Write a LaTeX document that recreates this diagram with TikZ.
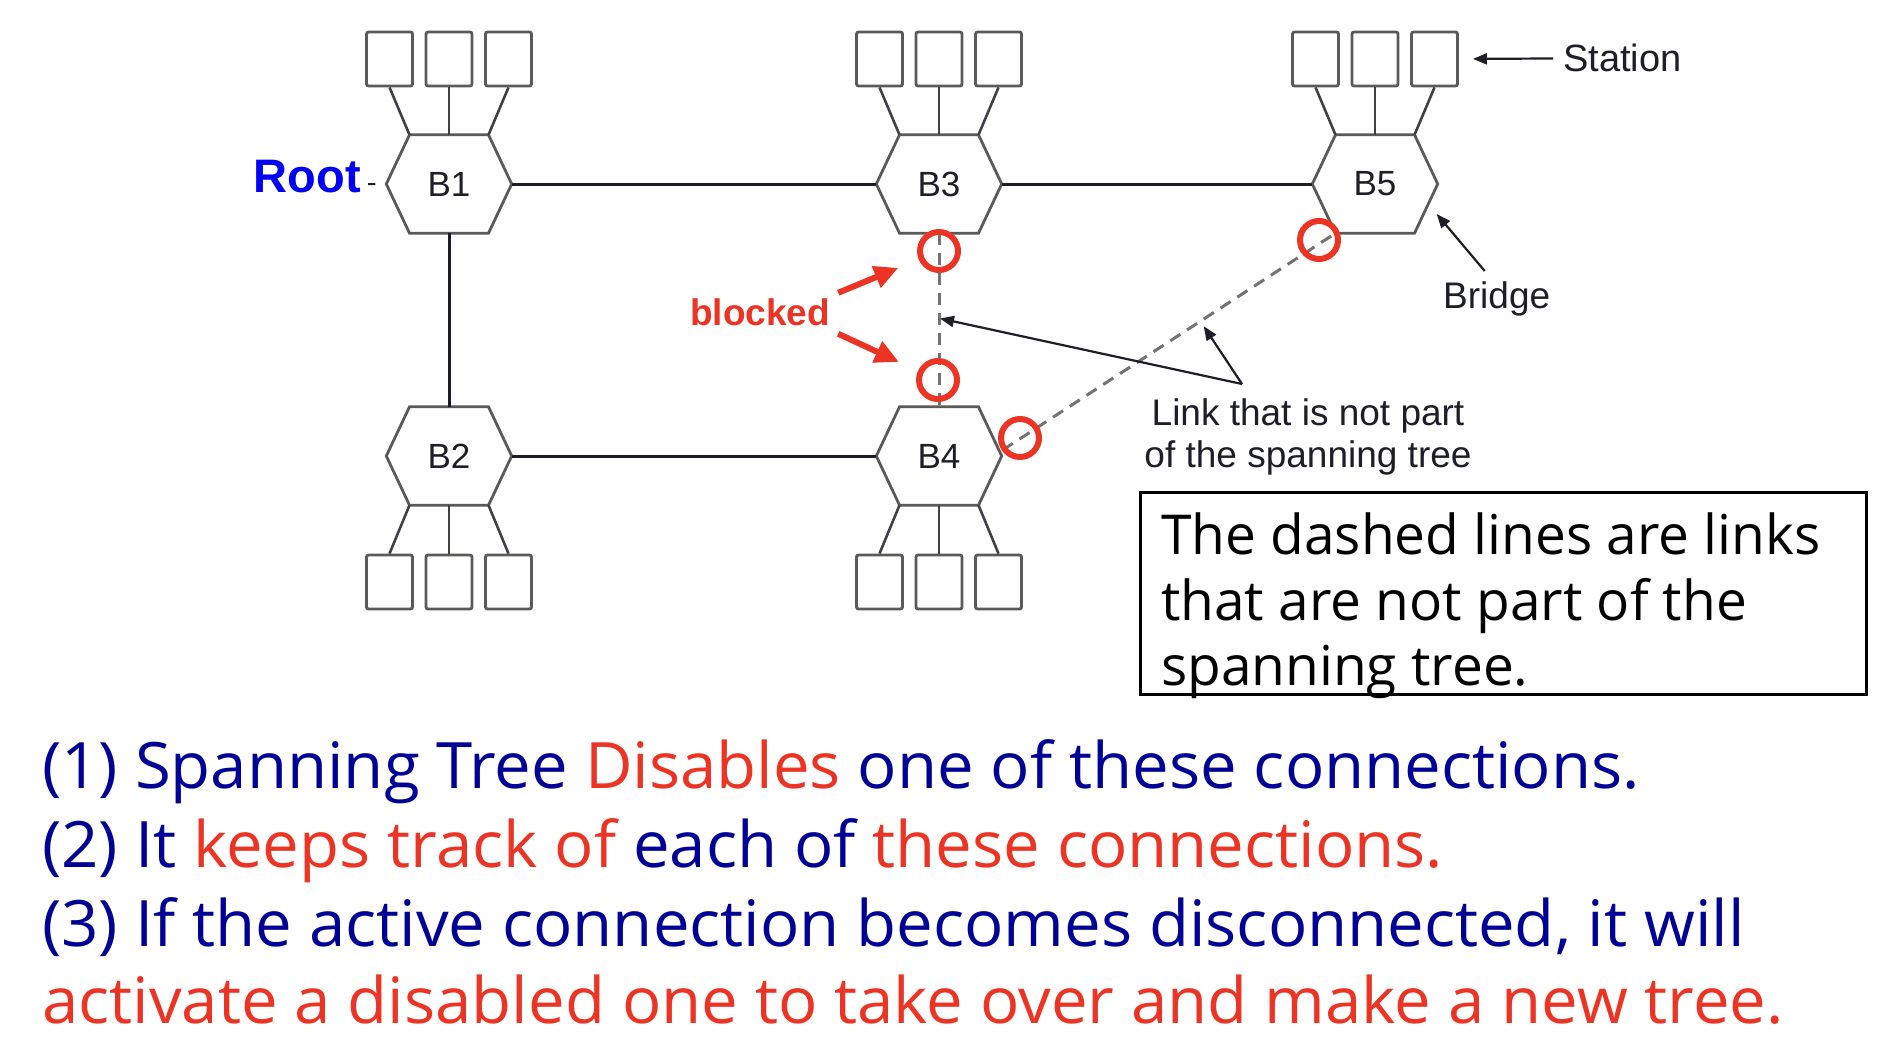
\documentclass[tikz,border=0pt]{standalone}
\usepackage{fontspec}
\setmainfont{Liberation Sans}
\newfontfamily\comic[FakeStretch=1.02]{Open Sans}
\newfontfamily\comicbox{Open Sans}
\usetikzlibrary{arrows.meta,calc}
\definecolor{navy}{RGB}{0,0,150}
\definecolor{tred}{RGB}{236,52,36}
\definecolor{lgray}{RGB}{90,90,90}
\definecolor{ink}{RGB}{30,30,40}
\definecolor{rootblue}{RGB}{0,0,245}
\begin{document}
\begin{tikzpicture}[x=1pt,y=-1pt,
  bridge/.style={minimum width=125pt, minimum height=98pt, inner sep=0pt, font=\fontsize{35}{40}\selectfont, text=ink},
  hexline/.style={draw=lgray, line width=2.8pt, line join=miter},
  station/.style={draw=lgray, line width=2.8pt, rounded corners=2pt, minimum width=46pt, minimum height=54pt, inner sep=0pt},
  tie/.style={draw=ink!85, line width=2.6pt},
  trunk/.style={draw=ink, line width=3pt},
  dlink/.style={draw=black!55, line width=3pt, dash pattern=on 12pt off 8pt},
  ring/.style={draw=tred, line width=6pt, circle, minimum size=38pt, inner sep=0pt},
  redarr/.style={draw=tred, line width=6pt, -{Triangle[length=24pt,width=22pt]}},
  annot/.style={draw=ink, line width=2.2pt, -{Triangle[length=14pt,width=11pt]}},
  lbl/.style={font=\fontsize{37}{42}\selectfont, text=ink, inner sep=0pt},
  bigtxt/.style={font=\comic\fontsize{64}{78}\selectfont, inner sep=0pt, anchor=base west},
  boxtxt/.style={font=\comicbox\fontsize{55}{66}\selectfont, inner sep=0pt, anchor=base west, text=black}
]
\useasboundingbox (0,0) rectangle (1886,1038);
\fill[white] (0,0) rectangle (1886,1038);

% bridges
\node[bridge] (B1) at (449,184) {B1};
\node[bridge] (B3) at (939,184) {B3};
\node[bridge] (B5) at (1375,184) {B5};
\node[bridge] (B2) at (449,456) {B2};
\node[bridge] (B4) at (939,456) {B4};

\foreach \b in {B1,B2,B3,B4,B5}{
  \coordinate (\b-tl) at ($(\b.north west)!0.185!(\b.north east)$);
  \coordinate (\b-tr) at ($(\b.north west)!0.815!(\b.north east)$);
  \coordinate (\b-bl) at ($(\b.south west)!0.185!(\b.south east)$);
  \coordinate (\b-br) at ($(\b.south west)!0.815!(\b.south east)$);
  \draw[hexline] (\b.west) -- (\b-tl) -- (\b-tr) -- (\b.east) -- (\b-br) -- (\b-bl) -- cycle;
}

% stations on top
\foreach \b in {B1,B3,B5}{
  \node[station] (\b-s1) at ($(\b)+(-59.5,-125)$) {};
  \node[station] (\b-s2) at ($(\b)+(0,-125)$) {};
  \node[station] (\b-s3) at ($(\b)+(59.5,-125)$) {};
  \draw[tie] (\b-s1.south) -- (\b-tl);
  \draw[tie] (\b-s2.south) -- (\b.north);
  \draw[tie] (\b-s3.south) -- (\b-tr);
}
% stations below
\foreach \b in {B2,B4}{
  \node[station] (\b-s1) at ($(\b)+(-59.5,126)$) {};
  \node[station] (\b-s2) at ($(\b)+(0,126)$) {};
  \node[station] (\b-s3) at ($(\b)+(59.5,126)$) {};
  \draw[tie] (\b-s1.north) -- (\b-bl);
  \draw[tie] (\b-s2.north) -- (\b.south);
  \draw[tie] (\b-s3.north) -- (\b-br);
}

% spanning tree links
\draw[trunk] (B1.east) -- (B3.west);
\draw[trunk] (B3.east) -- (B5.west);
\draw[trunk] (B1.south) -- (B2.north);
\draw[trunk] (B2.east) -- (B4.west);

% links not in the tree
\coordinate (d1) at ([shift={(1,-6)}]B4.east);
\draw[dlink] (B3.south) -- (B4.north) coordinate[pos=0.49] (m1);
\draw[dlink] (d1) -- (B5-bl) coordinate[pos=0.594] (m2);

% blocked rings
\node[ring] (r1) at (939,251) {};
\node[ring] (r2) at (938,380) {};
\node[ring] (r3) at (1319,240) {};
\node[ring] (r4) at (1020,438) {};

% Root
\node[font=\bfseries\fontsize{47}{52}\selectfont, text=rootblue, inner sep=0pt, anchor=base east] (root) at (361,192) {Root};
\draw[draw=ink, line width=2pt, shorten <=7pt, shorten >=11pt] ([yshift=-8pt]root.east) -- (B1.west);

% blocked
\node[font=\bfseries\fontsize{37}{42}\selectfont, text=tred, inner sep=0pt, anchor=base west] (blk) at (690,325) {blocked};
\draw[redarr, shorten >=22pt] ([shift={(8,-19)}]blk.east) -- (r1);
\draw[redarr, shorten >=21pt] ([shift={(8,22)}]blk.east) -- (r2);

% Station label
\node[lbl, anchor=base west, font=\fontsize{38}{42}\selectfont] (stl) at (1563,72) {Station};
\draw[annot, shorten <=10pt, shorten >=14pt] (stl.west) -- (B5-s3.east);

% Bridge label
\node[lbl, anchor=base west] (brl) at (1443,308) {Bridge};
\draw[annot] ([shift={(-12,-10)}]brl.north) -- ([shift={(-1,30)}]B5.east);

% Link label
\node[lbl, align=center, anchor=north] (lnk) at (1308,398) {Link that is not part\\of the spanning tree};
\coordinate (vx) at ([shift={(-66,-14)}]lnk.north);
\draw[annot, shorten >=1pt] (vx) -- (m1);
\draw[annot, shorten >=6pt] (vx) -- (m2);

% explanation box
\node[draw=black, line width=2.5pt, minimum width=726pt, minimum height=202pt, anchor=north west, inner sep=0pt] (box) at (1139,491) {};
\node[boxtxt] (bt1) at (1161,554) {The dashed lines are links};
\node[boxtxt] (bt2) at (1161,620) {that are not part of the};
\node[boxtxt] (bt3) at (1161,685) {spanning tree.};

% bottom text
\node[bigtxt] (t1) at (42,788) {\color{navy}(1) Spanning Tree \color{tred}Disables \color{navy}one of these connections.};
\node[bigtxt] (t2) at (42,867) {\color{navy}(2) It \color{tred}keeps track of \color{navy}each of \color{tred}these connections.};
\node[bigtxt] (t3) at (42,946) {\color{navy}(3) If the active connection becomes disconnected, it will};
\node[bigtxt] (t4) at (42,1023) {\color{tred}activate a disabled one to take over and make a new tree.};
\end{tikzpicture}
\end{document}
